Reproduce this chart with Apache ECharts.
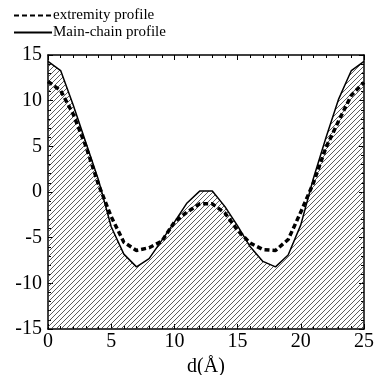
<!DOCTYPE html>
<html>
<head>
<meta charset="utf-8">
<script src="https://cdn.jsdelivr.net/npm/echarts@6/dist/echarts.min.js"></script>
<style>
  html, body { margin: 0; padding: 0; background: #fff; }
  #chart { width: 376px; height: 375px; }
</style>
</head>
<body>
<div id="chart"></div>
<script>
// d (Å) positions
const dValues = [0, 1, 2, 3, 4, 5, 6, 7, 8, 9, 10, 11, 12, 13, 14, 15, 16, 17, 18, 19, 20, 21, 22, 23, 24, 25];
const mainChain = [14.3, 13.3, 9.5, 5.4, 1.3, -3.8, -6.8, -8.2, -7.3, -5.3, -3.3, -1.2, 0.1, 0.1, -1.6, -3.7, -6.0, -7.6, -8.2, -6.9, -3.6, 1.5, 6.0, 10.2, 13.3, 14.3];
const extremity = [12.1, 11.1, 8.5, 5.0, 0.8, -2.7, -5.5, -6.4, -6.1, -5.4, -3.3, -2.2, -1.3, -1.3, -2.3, -4.2, -5.6, -6.3, -6.4, -5.2, -2.2, 1.0, 4.9, 7.8, 10.6, 12.0];
const xTicks = [0, 5, 10, 15, 20, 25];
const yTicks = [-15, -10, -5, 0, 5, 10, 15];

const pair = (ys) => ys.map((y, i) => [dValues[i], y]);

// diagonal hatching tile for the area under the main-chain profile
const tile = document.createElement("canvas");
tile.width = 5;
tile.height = 5;
const tc = tile.getContext("2d");
tc.strokeStyle = "#333";
tc.lineWidth = 0.8;
tc.beginPath();
tc.moveTo(-1, 6); tc.lineTo(6, -1);
tc.moveTo(-1, 1); tc.lineTo(1, -1);
tc.moveTo(4, 6); tc.lineTo(6, 4);
tc.stroke();

const serif = "Liberation Serif";
const chart = echarts.init(document.getElementById("chart"));

const axisBase = {
  type: "value",
  axisLine: { show: true, onZero: false, lineStyle: { color: "#000", width: 1.5 } },
  axisTick: { show: true, inside: true, length: 5, lineStyle: { color: "#000" } },
  minorTick: { show: true, splitNumber: 5, length: 3, lineStyle: { color: "#000" } },
  splitLine: { show: false },
};

chart.setOption({
  animation: false,
  grid: { left: 48, right: 12, top: 55, bottom: 46, outerBoundsMode: "none" },
  legend: {
    orient: "vertical",
    left: 8,
    top: 3,
    itemGap: 2,
    itemWidth: 38,
    itemHeight: 12,
    itemStyle: { opacity: 0 },
    textStyle: { fontFamily: serif, fontSize: 15, color: "#000", padding: [0, 0, 0, -4] },
    data: ["extremity profile", "Main-chain profile"],
  },
  xAxis: [
    Object.assign({}, axisBase, {
      min: 0, max: 25, interval: 5,
      position: "bottom",
      name: "d(Å)",
      nameLocation: "middle",
      nameGap: 28,
      nameTextStyle: { fontFamily: serif, fontSize: 20, color: "#000" },
      axisLabel: {
        fontFamily: serif, fontSize: 20, color: "#000", margin: 3,
        formatter: (v) => (xTicks.includes(v) ? String(v) : ""),
      },
    }),
    Object.assign({}, axisBase, {
      min: 0, max: 25, interval: 5,
      position: "top",
      axisLabel: { show: false },
    }),
  ],
  yAxis: [
    Object.assign({}, axisBase, {
      min: -15, max: 15, interval: 5,
      position: "left",
      axisLabel: {
        fontFamily: serif, fontSize: 20, color: "#000", margin: 6,
        formatter: (v) => (yTicks.includes(v) ? String(v) : ""),
      },
    }),
    Object.assign({}, axisBase, {
      min: -15, max: 15, interval: 5,
      position: "right",
      axisLabel: { show: false },
    }),
  ],
  series: [
    {
      name: "Main-chain profile",
      type: "line",
      data: pair(mainChain),
      symbol: "none",
      z: 2,
      lineStyle: { color: "#000", width: 1.5 },
      itemStyle: { color: "#000" },
      areaStyle: { origin: "start", opacity: 1, color: { image: tile, repeat: "repeat" } },
    },
    {
      name: "extremity profile",
      type: "line",
      data: pair(extremity),
      symbol: "none",
      z: 3,
      lineStyle: { color: "#000", width: 3.5, type: [5, 3] },
      itemStyle: { color: "#000" },
    },
  ],
});
</script>
</body>
</html>
